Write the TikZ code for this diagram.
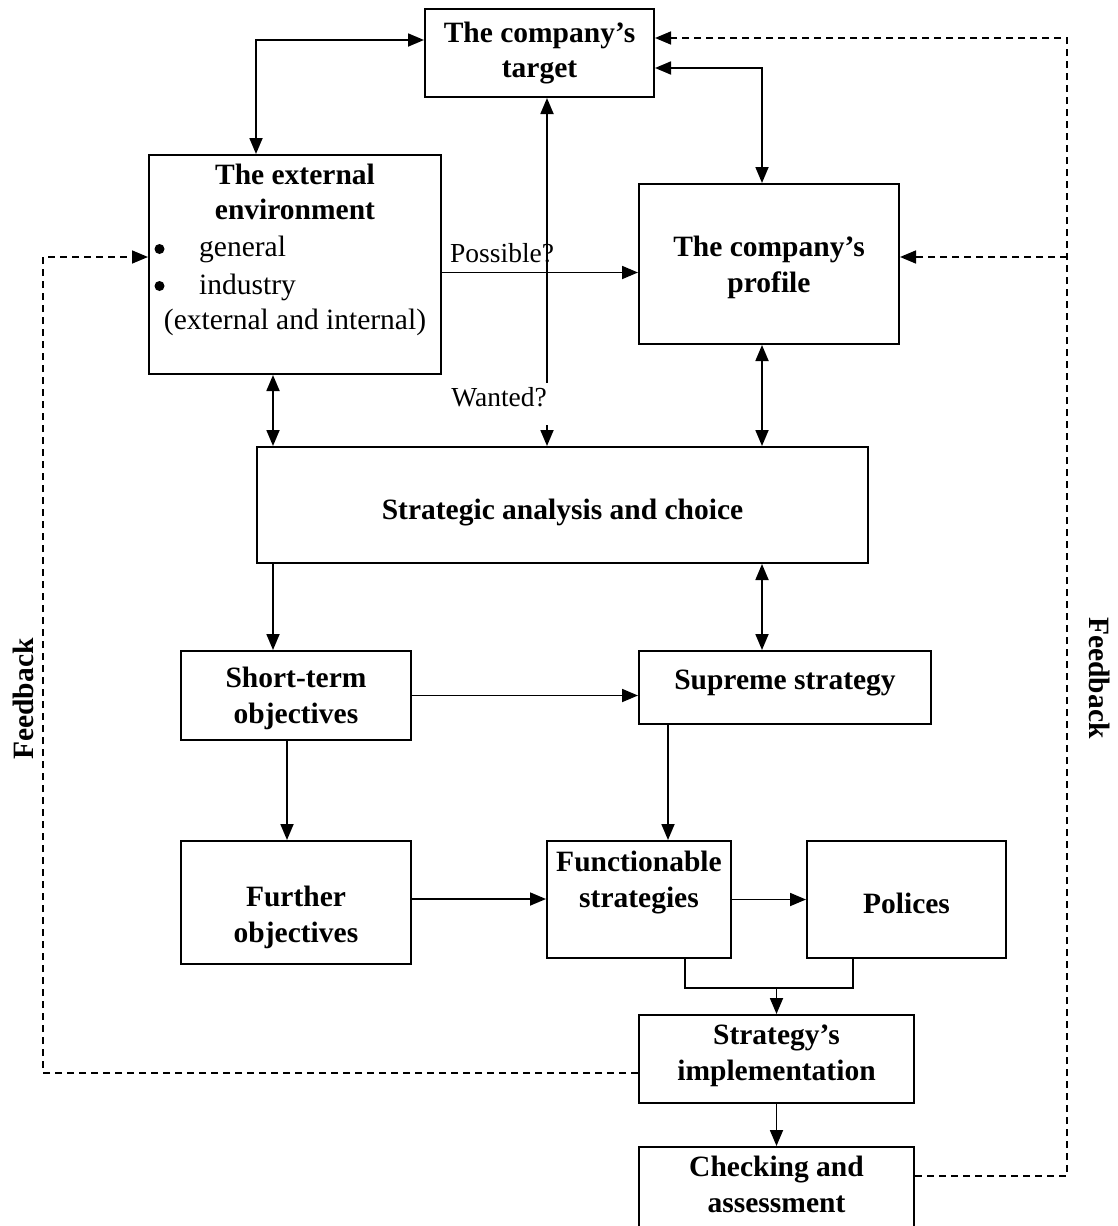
\documentclass[tikz,border=0pt]{standalone}
\usepackage{fontspec}
\setmainfont{Liberation Serif}
\usetikzlibrary{arrows.meta,calc}
\begin{document}
\begin{tikzpicture}[x=1pt,y=-1pt,
  box/.style={draw, line width=2pt, inner sep=0pt},
  lbl/.style={inner sep=0pt, align=center, font=\fontsize{29.5}{35.5}\selectfont\bfseries},
  txt/.style={inner sep=0pt, font=\fontsize{29.5}{35.5}\selectfont},
  qtxt/.style={inner sep=0pt, font=\fontsize{27.5}{33}\selectfont},
  bul/.style={circle, fill, inner sep=0pt, minimum size=10pt},
  con/.style={line width=1.8pt},
  tip/.style={},
  arr/.style={con, -{Triangle[length=16pt,width=13pt]}},
  darr/.style={con, {Triangle[length=16pt,width=13pt]}-{Triangle[length=16pt,width=13pt]}},
  fb/.style={line width=1.6pt, dash pattern=on 7pt off 5pt},
  fbarr/.style={fb, -{Triangle[length=16pt,width=13pt]}}]

\useasboundingbox (0,0) rectangle (1117,1226);

% boxes
\node[box, minimum width=229pt, minimum height=88pt] (tgt) at (539.5,53) {};
\node[lbl] (tgtT) at (tgt.center) {The company’s\\target};

\node[box, minimum width=292pt, minimum height=219pt] (env) at (295,264.5) {};
\node[lbl] (envT) at ([yshift=-38pt]env.north) {The external\\environment};
\node[bul] (bul1) at ([xshift=11.5pt,yshift=-95pt]env.north west) {};
\node[bul] (bul2) at ([xshift=11.5pt,yshift=-132pt]env.north west) {};
\node[txt, anchor=base west] (envA) at ([xshift=51pt,yshift=-102pt]env.north west) {general};
\node[txt, anchor=base west] (envB) at ([xshift=51pt,yshift=-140pt]env.north west) {industry};
\node[txt, anchor=base] (envC) at ([yshift=-175pt]env.north) {(external and internal)};

\node[box, minimum width=260pt, minimum height=160pt] (prof) at (769,264) {};
\node[lbl] (profT) at ([yshift=-3.5pt]prof.center) {The company’s\\profile};

\node[box, minimum width=611pt, minimum height=116pt] (ana) at (562.5,505) {};
\node[lbl] (anaT) at ([yshift=-8pt]ana.center) {Strategic analysis and choice};

\node[box, minimum width=230pt, minimum height=89pt] (st) at (296,695.5) {};
\node[lbl] (stT) at ([yshift=-3pt]st.center) {Short-term\\objectives};

\node[box, minimum width=292pt, minimum height=73pt] (sup) at (785,687.5) {};
\node[lbl] (supT) at ([yshift=4.5pt]sup.center) {Supreme strategy};

\node[box, minimum width=230pt, minimum height=123pt] (fur) at (296,902.5) {};
\node[lbl] (furT) at ([yshift=-15pt]fur.center) {Further\\objectives};

\node[box, minimum width=184pt, minimum height=117pt] (fun) at (639,899.5) {};
\node[lbl] (funT) at ([yshift=17pt]fun.center) {Functionable\\strategies};

\node[box, minimum width=199pt, minimum height=117pt] (pol) at (906.5,899.5) {};
\node[lbl] (polT) at ([yshift=-3.5pt]pol.center) {Polices};

\node[box, minimum width=275pt, minimum height=88pt] (imp) at (776.5,1059) {};
\node[lbl] (impT) at ([yshift=3pt]imp.center) {Strategy’s\\implementation};

\node[box, minimum width=275pt, minimum height=93pt] (chk) at (776.5,1193.5) {};
\node[lbl] (chkT) at ([yshift=-38.5pt]chk.north) {Checking and\\assessment};

\node[lbl, rotate=90] (fbLT) at (23,699) {Feedback};
\node[lbl, rotate=-90] (fbRT) at (1100,678) {Feedback};

% coordinates
\coordinate (fbl) at (43,700);
\coordinate (fbr) at (1067,700);

% connectors
\draw[darr] ([xshift=-39pt]env.north) |- ([yshift=13pt]tgt.west);
\draw[darr] ([yshift=-15pt]tgt.east) -| ([xshift=-7pt]prof.north);

\coordinate (p1) at ([yshift=-8pt]env.east);
\draw[arr] (p1) -- (p1 -| prof.west);
\node[qtxt, anchor=base west] (poss) at ([xshift=8pt,yshift=10pt]p1) {Possible?};

\draw[arr] ([xshift=7.5pt,yshift=-285pt]tgt.south) -- ([xshift=7.5pt]tgt.south);
\draw[arr] ([xshift=-15.5pt,yshift=21pt]ana.north) -- ([xshift=-15.5pt]ana.north);
\node[qtxt, anchor=base east] (want) at ([xshift=-15.5pt,yshift=40pt]ana.north) {Wanted?};

\coordinate (e1) at ([xshift=-22pt]env.south);
\draw[darr] (e1) -- (e1 |- ana.north);
\coordinate (p2) at ([xshift=-7pt]prof.south);
\draw[darr] (p2) -- (p2 |- ana.north);

\coordinate (s1) at ([xshift=-23pt]st.north);
\draw[arr] (s1 |- ana.south) -- (s1);
\coordinate (s2) at ([xshift=-23pt]sup.north);
\draw[darr] (s2 |- ana.south) -- (s2);
\draw[arr] (st.east) -- (st.east -| sup.west);

\coordinate (f1) at ([xshift=29pt]fun.north);
\draw[arr] (f1 |- sup.south) -- (f1);
\draw[arr] ([xshift=-9pt]st.south) -- ([xshift=-9pt]fur.north);
\coordinate (f2) at ([yshift=3.5pt]fur.east);
\draw[arr] (f2) -- (f2 -| fun.west);
\draw[arr] (fun.east) -- (fun.east -| pol.west);

\draw[con] ([xshift=46pt]fun.south) -- ++(0,29) coordinate (mj) -| ([xshift=-53.5pt]pol.south);
\draw[arr] (mj -| imp.north) -- (imp.north);
\draw[arr] (imp.south) -- (chk.north);

% feedback
\coordinate (i1) at ([yshift=-14pt]imp.west);
\coordinate (e2) at ([yshift=7.5pt]env.west);
\draw[fbarr] (i1) -- (i1 -| fbl) -- (e2 -| fbl) -- (e2);
\coordinate (c1) at ([yshift=17.5pt]chk.east);
\coordinate (t1) at ([yshift=15pt]tgt.east);
\coordinate (r1) at ([yshift=7pt]prof.east);
\draw[fbarr] (c1) -- (c1 -| fbr) -- (t1 -| fbr) -- (t1);
\draw[fbarr] (r1 -| fbr) -- (r1);
\end{tikzpicture}
\end{document}
